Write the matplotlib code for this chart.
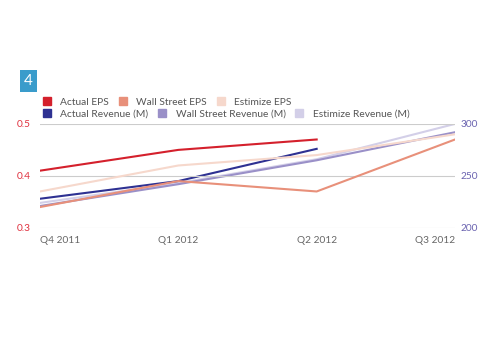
import matplotlib.pyplot as plt
from matplotlib.lines import Line2D

plt.rcParams['font.family'] = ['Lato', 'DejaVu Sans']

quarters = ['Q4 2011', 'Q1 2012', 'Q2 2012', 'Q3 2012']
actual_eps = [0.41, 0.45, 0.47]
wallst_eps = [0.34, 0.39, 0.37, 0.47]
estimize_eps = [0.37, 0.42, 0.44, 0.48]
actual_rev = [228, 245, 276]
wallst_rev = [221, 242, 265, 292]
estimize_rev = [224, 243, 266, 300]

c_aeps = '#d4202c'
c_weps = '#e8907a'
c_eeps = '#f6d8cc'
c_arev = '#2e3192'
c_wrev = '#9a90c8'
c_erev = '#d3cfe8'

fig = plt.figure(figsize=(5, 3.5), dpi=100)
ax = fig.add_axes([0.08, 0.349, 0.83, 0.297])
ax2 = ax.twinx()

x = list(range(len(quarters)))
ax2.plot(x, estimize_rev, color=c_erev, lw=1.5)
ax2.plot(x, wallst_rev, color=c_wrev, lw=1.5)
ax2.plot(x[:3], actual_rev, color=c_arev, lw=1.5)
ax2.set_ylim(200, 300)

ax.plot(x, estimize_eps, color=c_eeps, lw=1.5)
ax.plot(x, wallst_eps, color=c_weps, lw=1.5)
ax.plot(x[:3], actual_eps, color=c_aeps, lw=1.5)
ax.set_ylim(0.3, 0.5)
ax.set_xlim(0, 3)
ax.set_zorder(ax2.get_zorder() + 1)
ax.patch.set_visible(False)

ax.set_yticks([0.3, 0.4, 0.5])
ax.set_yticklabels(['0.3', '0.4', '0.5'])
ax2.set_yticks([200, 250, 300])
ax.grid(axis='y', color='#cccccc', lw=0.8)
ax.set_xticks(x)
ax.set_xticklabels(quarters)
labs = ax.get_xticklabels()
labs[0].set_horizontalalignment('left')
labs[-1].set_horizontalalignment('right')

for a in (ax, ax2):
    for s in a.spines.values():
        s.set_visible(False)
    a.tick_params(length=0, labelsize=7.3)
ax.tick_params(axis='y', colors='#e0303e', pad=7)
ax.tick_params(axis='x', colors='#666666', pad=6)
ax2.tick_params(axis='y', colors='#6a63b0', pad=4)

def sq(c):
    return Line2D([], [], marker='s', color='none', markerfacecolor=c,
                  markeredgecolor=c, markersize=6)

leg1 = fig.legend([sq(c_aeps), sq(c_weps), sq(c_eeps)],
                  ['Actual EPS', 'Wall Street EPS', 'Estimize EPS'],
                  loc='upper left', bbox_to_anchor=(0.065, 0.747), ncol=3,
                  frameon=False, fontsize=7.4, handlelength=1, handletextpad=0.8,
                  columnspacing=0.85, labelcolor='#555555')
leg2 = fig.legend([sq(c_arev), sq(c_wrev), sq(c_erev)],
                  ['Actual Revenue (M)', 'Wall Street Revenue (M)', 'Estimize Revenue (M)'],
                  loc='upper left', bbox_to_anchor=(0.065, 0.713), ncol=3,
                  frameon=False, fontsize=7.4, handlelength=1, handletextpad=0.8,
                  columnspacing=0.85, labelcolor='#555555')

fig.text(0.057, 0.768, '4', color='white', fontsize=11, ha='center', va='center',
         bbox=dict(boxstyle='square,pad=0.25', fc='#3a9ccb', ec='none'))

fig.savefig('out.png', dpi=100)
